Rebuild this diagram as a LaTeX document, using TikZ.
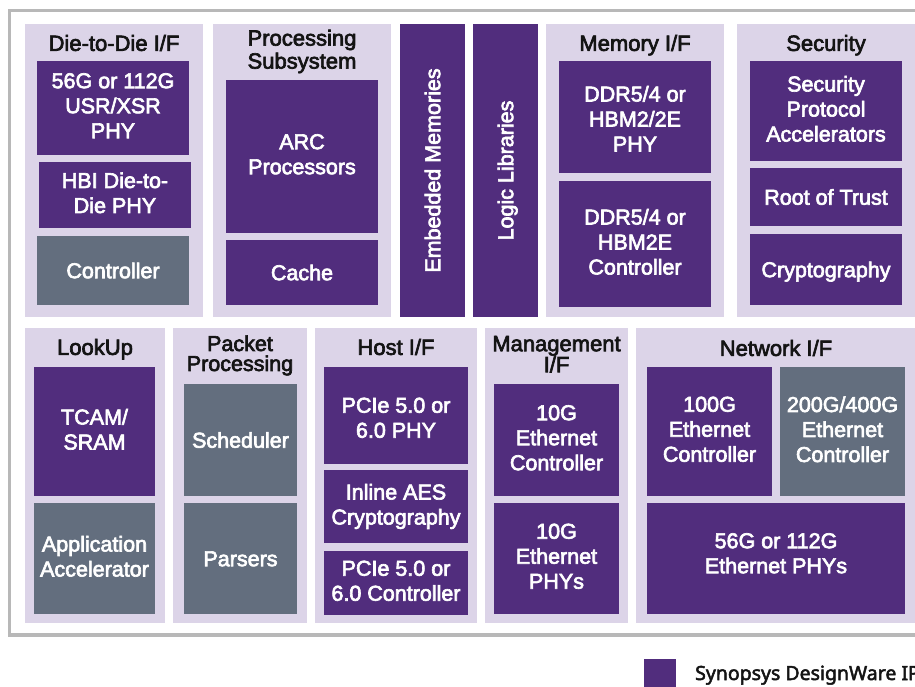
\documentclass[tikz,border=0pt]{standalone}
\usepackage{fontspec}
\newfontfamily\dwfont{Liberation Sans}[FakeBold=3]
\newfontfamily\dwlegfont{Noto Sans}[FakeBold=2.5]
\definecolor{dwpurple}{RGB}{81,45,125}
\definecolor{dwgray}{RGB}{99,110,126}
\definecolor{dwlav}{RGB}{220,212,232}
\definecolor{dwborder}{RGB}{184,184,184}
\definecolor{dwtext}{RGB}{20,20,20}
\newcommand\dwboxfont{\dwfont\fontsize{21.5}{25}\selectfont}
\newcommand\dwtitlefont{\dwfont\fontsize{22}{23}\selectfont}
\begin{document}
\begin{tikzpicture}[x=1pt,y=-1pt,
  sz/.style 2 args={minimum width=#1, minimum height=#2},
  panel/.style={fill=dwlav, draw=none, inner sep=0pt},
  txtstrut/.style={execute at begin node={\rule{0pt}{0.93em}}, execute at end node={\rule[-0.214em]{0pt}{0.214em}}},
  pbox/.style={fill=dwpurple, text=white, inner sep=0pt, align=center, font=\dwboxfont, txtstrut},
  gbox/.style={pbox, fill=dwgray},
  ttl/.style={text=dwtext, inner sep=0pt, align=center, font=\dwtitlefont, txtstrut},
  border/.style={draw=dwborder, line width=3.5pt}
]
\useasboundingbox (0,0) rectangle (915,687);
\clip (0,0) rectangle (915,687);
\fill[white] (0,0) rectangle (915,687);
\draw[border] (9.5,10.5) rectangle (935,635);

% ---------- top row panels ----------
\node[panel, sz={178}{293}] (pdtd) at (114,170.5) {};
\node[panel, sz={178}{293}] (pproc) at (302,170.5) {};
\node[panel, sz={178}{293}] (pmem) at (635,170.5) {};
\node[panel, sz={178}{293}] (psec) at (826,170.5) {};

\node[pbox, sz={65}{293}] (embmem) at (432.5,170.5) {};
\node[text=white, inner sep=0pt, font=\dwboxfont, txtstrut, rotate=90] (embmemt) at (embmem.center) {Embedded Memories};
\node[pbox, sz={65}{293}] (logic) at (505.5,170.5) {};
\node[text=white, inner sep=0pt, font=\dwboxfont, txtstrut, rotate=90] (logict) at (logic.center) {Logic Libraries};

% titles
\node[ttl] (tdtd) at (114,43) {Die-to-Die I/F};
\node[ttl] (tproc) at (302,51.5) {Processing\\Subsystem};
\node[ttl] (tmem) at (635,43) {Memory I/F};
\node[ttl] (tsec) at (826,43) {Security};

% Die-to-Die
\node[pbox, sz={152}{94}] (dtdphy) at (113,108) {56G or 112G\\USR/XSR\\PHY};
\node[pbox, sz={152}{66}] (dtdhbi) at (115,195) {HBI Die-to-\\Die PHY};
\node[gbox, sz={152}{69}] (dtdctl) at (113,270.5) {Controller};

% Processing
\node[pbox, sz={152}{153}] (arc) at (302,156.5) {ARC\\Processors};
\node[pbox, sz={152}{65}] (cache) at (302,272.5) {Cache};

% Memory
\node[pbox, sz={152}{112}] (ddrphy) at (635,117) {};
\node[text=white, inner sep=0pt, align=center, font=\dwboxfont, txtstrut] (ddrphyt) at (635,121) {DDR5/4 or\\HBM2/2E\\PHY};
\node[pbox, sz={152}{126}] (ddrctl) at (635,244) {DDR5/4 or\\HBM2E\\Controller};

% Security
\node[pbox, sz={152}{100}] (secacc) at (826,111) {Security\\Protocol\\Accelerators};
\node[pbox, sz={152}{58}] (secrot) at (826,197) {Root of Trust};
\node[pbox, sz={152}{71}] (seccry) at (826,269.5) {Cryptography};

% ---------- bottom row panels ----------
\node[panel, sz={140}{295}] (plook) at (95,475.5) {};
\node[panel, sz={134}{295}] (ppkt) at (240,475.5) {};
\node[panel, sz={162}{295}] (phost) at (396,475.5) {};
\node[panel, sz={143}{295}] (pmgmt) at (556.5,475.5) {};
\node[panel, sz={280}{295}] (pnet) at (776,475.5) {};

\node[ttl] (tlook) at (95,347) {LookUp};
\node[ttl, font=\dwfont\fontsize{21.5}{20}\selectfont] (tpkt) at (240,355.5) {Packet\\Processing};
\node[ttl] (thost) at (396,347) {Host I/F};
\node[ttl, font=\dwfont\fontsize{22}{21}\selectfont] (tmgmt) at (556.5,356.5) {Management\\I/F};
\node[ttl] (tnet) at (776,348) {Network I/F};

% LookUp
\node[pbox, sz={121}{129}] (tcam) at (94.5,431.5) {TCAM/\\SRAM};
\node[gbox, sz={121}{111}] (appacc) at (94.5,558.5) {Application\\Accelerator};

% Packet processing
\node[gbox, sz={113}{112}] (sched) at (240.5,440) {Scheduler};
\node[gbox, sz={113}{111}] (parsers) at (240.5,558.5) {Parsers};

% Host
\node[pbox, sz={144}{97}] (pciephy) at (396,415.5) {};
\node[text=white, inner sep=0pt, align=center, font=\dwboxfont, txtstrut] (pciephyt) at (396,420) {PCIe 5.0 or\\6.0 PHY};
\node[pbox, sz={144}{73}] (aes) at (396,506.5) {Inline AES\\Cryptography};
\node[pbox, sz={144}{64}] (pciectl) at (396,583) {PCIe 5.0 or\\6.0 Controller};

% Management
\node[pbox, sz={125}{112}] (eth10c) at (556.5,440) {10G\\Ethernet\\Controller};
\node[pbox, sz={125}{111}] (eth10p) at (556.5,558.5) {10G\\Ethernet\\PHYs};

% Network
\node[pbox, sz={125}{129}] (eth100) at (709.5,431.5) {100G\\Ethernet\\Controller};
\node[gbox, sz={125}{129}] (eth400) at (842.5,431.5) {200G/400G\\Ethernet\\Controller};
\node[pbox, sz={258}{111}] (ethphy) at (776,558.5) {};
\node[text=white, inner sep=0pt, align=center, font=\dwboxfont, txtstrut] (ethphyt) at (776,555.5) {56G or 112G\\Ethernet PHYs};

% ---------- legend ----------
\node[fill=dwpurple, inner sep=0pt, sz={32}{32}] (legsq) at (660,675) {};
\node[anchor=base west, inner sep=0pt, text=dwtext, font=\dwlegfont\fontsize{19.5}{22}\selectfont] (legtxt) at (695,680) {Synopsys DesignWare IP};
\end{tikzpicture}
\end{document}
